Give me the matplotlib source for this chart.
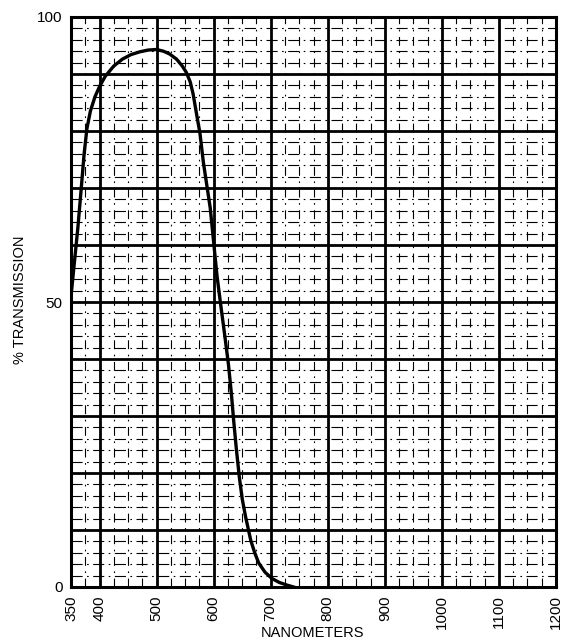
import numpy as np
import matplotlib.pyplot as plt

# transmission curve
wavelength = [350, 356, 362, 368, 373, 378, 384, 392, 400, 410, 425, 440, 455, 471,
              485, 500, 512, 523, 535, 545, 552, 559, 564, 570, 576, 582, 588, 594,
              600, 606, 612, 619, 626, 631, 635, 640, 645, 650, 656, 665, 672, 679,
              690, 702, 715, 728, 740]
transmission = [51, 57, 63, 70, 76, 80.5, 83.5, 86, 87.8, 89.6, 91.4, 92.6, 93.4, 93.9,
                94.2, 94.3, 94, 93.5, 92.6, 91.4, 90.3, 88.6, 86.5, 83, 79.6, 74.5, 70.5, 66.5,
                60.5, 54.5, 49.8, 44.5, 39, 34, 29.3, 24, 19.3, 15.5, 12.3, 8.2, 6, 4.2,
                2.6, 1.5, 0.8, 0.35, 0]

xticks = [350, 400, 500, 600, 700, 800, 900, 1000, 1100, 1200]
yticks = [0, 50, 100]

plt.rcParams['font.family'] = ['Liberation Sans', 'DejaVu Sans']

fig = plt.figure(figsize=(5.66, 6.42), dpi=100)
ax = fig.add_axes([71 / 566, 55 / 642, 485 / 566, 570 / 642])

# graph paper: sparse minor dash-dot lines, heavy major lines
for x in np.arange(350, 1200, 25):
    if x % 100 != 0 and x != 350:
        ax.axvline(x, color='k', lw=0.8, ls=(0, (8, 5, 1.5, 5)), zorder=1)
for y in np.arange(2, 100, 2):
    if y % 10 != 0:
        ax.axhline(y, color='k', lw=0.8, ls=(0, (10, 4, 1.5, 4)), zorder=1)
for x in range(400, 1200, 100):
    ax.axvline(x, color='k', lw=2.0, zorder=2)
for y in range(10, 100, 10):
    ax.axhline(y, color='k', lw=2.0, zorder=2)

ax.plot(wavelength, transmission, color='k', lw=2.4, zorder=3)

ax.set_xlim(350, 1200)
ax.set_ylim(0, 100)
ax.set_xticks(xticks)
ax.set_xticklabels([str(t) for t in xticks], rotation=90, fontsize=11)
ax.set_yticks(yticks)
ax.set_yticklabels([str(t) for t in yticks], fontsize=11)
ax.tick_params(length=0, pad=6)
for s in ax.spines.values():
    s.set_linewidth(2.2)

fig.text(313 / 566, 1 - 633 / 642, "NANOMETERS", fontsize=10.5, ha='center', va='center')
fig.text(20 / 566, 1 - 300 / 642, "% TRANSMISSION", fontsize=10.5, ha='center',
         va='center', rotation=90)

fig.savefig("out.png", dpi=100)
